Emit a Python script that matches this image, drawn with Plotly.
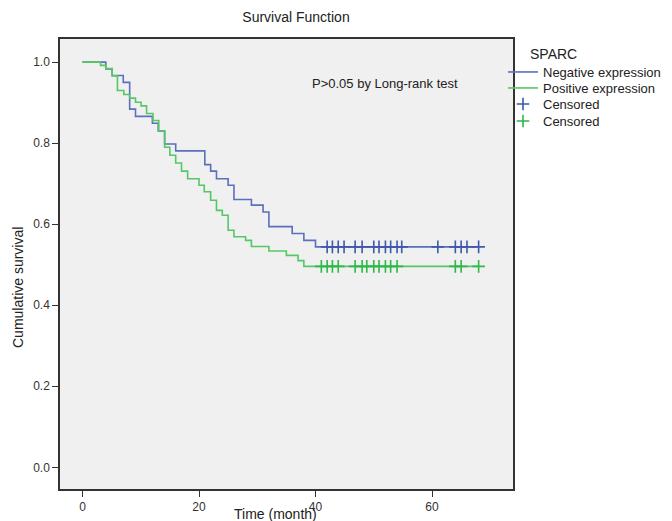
import numpy as np
import plotly.graph_objects as go

# ---- data ----
neg_times = [0, 4.0, 5.1, 7.0, 8.1, 9.1, 12.0, 13.0, 14.1, 16.0, 21.0, 22.0, 23.0,
             25.0, 26.0, 29.0, 31.0, 32.0, 36.0, 38.0, 40.0]
neg_surv = [1.0, 0.983, 0.967, 0.950, 0.884, 0.866, 0.849, 0.830, 0.798, 0.781, 0.747,
            0.731, 0.712, 0.696, 0.661, 0.647, 0.630, 0.594, 0.577, 0.560, 0.544]
neg_censor = [42.0, 42.9, 43.9, 44.9, 46.8, 48.0, 50.0, 50.9, 52.0, 52.9, 54.0, 54.8,
              61.0, 64.0, 65.0, 66.0, 68.0]

pos_times = [0, 3.1, 4.0, 5.1, 6.0, 7.1, 8.1, 9.1, 10.05, 11.0, 12.1, 13.1, 14.1, 15.0,
             16.0, 17.0, 18.05, 20.0, 20.9, 22.0, 23.0, 24.0, 25.0, 26.0, 28.0, 29.0,
             32.0, 35.0, 37.0, 38.0]
pos_surv = [1.0, 0.992, 0.984, 0.966, 0.930, 0.920, 0.911, 0.901, 0.892, 0.873, 0.856,
            0.830, 0.790, 0.770, 0.751, 0.731, 0.712, 0.696, 0.680, 0.659, 0.634, 0.622,
            0.585, 0.569, 0.560, 0.545, 0.534, 0.523, 0.510, 0.496]
pos_censor = [41.0, 42.0, 42.9, 43.9, 46.8, 48.0, 48.8, 50.0, 50.9, 52.0, 52.9, 54.0,
              64.0, 65.0, 68.0]

group_names = ["Negative expression", "Positive expression"]
x_ticks = [0, 20, 40, 60]
y_ticks = [0.0, 0.2, 0.4, 0.6, 0.8, 1.0]

# ---- styling ----
line_colors = ["#5a6fbd", "#55c865"]
cens_colors = ["#3e58ac", "#2eb848"]
FONT = "Liberation Sans, Arial, sans-serif"
TXT = "#222222"

OFF = 8  # page body margin offset
FW, FH = 672 - OFF, 521 - OFF
SL, ST, SR, SB = 60, 39, 513, 489  # plot area in screen pixels
PW, PH = SR - SL, SB - ST
L, T = SL - OFF, ST - OFF
R, B = FW - L - PW, FH - T - PH

legend_rows_px = [72, 88, 104, 121]  # screen y of each legend row


def step_value(times, surv, t):
    idx = np.searchsorted(np.array(times), t, side="right") - 1
    return np.array(surv)[idx]


legend_ids = ["legend", "legend2", "legend3", "legend4"]

fig = go.Figure()
groups = [(neg_times, neg_surv, neg_censor), (pos_times, pos_surv, pos_censor)]
for i, (tt, ss, cc) in enumerate(groups):
    end_t = max(cc)
    fig.add_trace(go.Scatter(
        x=list(tt) + [end_t], y=list(ss) + [ss[-1]],
        mode="lines", line=dict(color=line_colors[i], width=1.6, shape="hv"),
        name=group_names[i], legend=legend_ids[i],
    ))
for i, (tt, ss, cc) in enumerate(groups):
    fig.add_trace(go.Scatter(
        x=cc, y=step_value(tt, ss, cc),
        mode="markers",
        marker=dict(symbol="cross-thin", size=9,
                    line=dict(color=cens_colors[i], width=1.6)),
        name="Censored", legend=legend_ids[2 + i],
    ))

fig.add_annotation(x=52, y=0.947, xref="x", yref="y", text="P>0.05 by Long-rank test",
                   showarrow=False, font=dict(family=FONT, size=13, color=TXT))
fig.add_annotation(x=(275 - SL) / PW, y=-(514 - SB) / PH, xref="paper", yref="paper",
                   xanchor="center", yanchor="middle",
                   text="Time (month)", showarrow=False,
                   font=dict(family=FONT, size=14, color=TXT))
fig.add_annotation(x=-(SL - 18) / PW, y=(SB - 288) / PH, xref="paper", yref="paper",
                   xanchor="center", yanchor="middle",
                   text="Cumulative survival", showarrow=False, textangle=-90,
                   font=dict(family=FONT, size=14, color=TXT))
fig.add_annotation(x=(528 - SL) / PW, y=(SB - 54) / PH, xref="paper", yref="paper",
                   xanchor="left", yanchor="middle",
                   text="SPARC", showarrow=False,
                   font=dict(family=FONT, size=14, color=TXT))

legend_common = dict(xanchor="left", yanchor="middle", bgcolor="rgba(0,0,0,0)",
                     font=dict(family=FONT, size=13, color=TXT), itemwidth=30)
legends = {}
for k, lid in enumerate(legend_ids):
    legends[lid] = dict(x=(503 - SL) / PW, y=(SB - legend_rows_px[k]) / PH, **legend_common)

fig.update_layout(
    width=FW, height=FH,
    margin=dict(l=L, r=R, t=T, b=B, autoexpand=False),
    paper_bgcolor="white", plot_bgcolor="#f0f0f0",
    font=dict(family=FONT, size=12, color=TXT),
    title=dict(text="Survival Function", x=(296 - OFF) / FW, xanchor="center",
               y=1 - (17 - OFF) / FH, yanchor="middle",
               font=dict(family=FONT, size=14, color=TXT)),
    showlegend=True,
    xaxis=dict(range=[-3.86, 73.9], tickvals=x_ticks, showgrid=False, zeroline=False,
               showline=True, linecolor="#333333", linewidth=1.5, mirror=True,
               ticks="outside", ticklen=6, tickcolor="#333333", tickwidth=1.2,
               tickfont=dict(family=FONT, size=12, color="#333333")),
    yaxis=dict(range=[-0.0535, 1.057], tickvals=y_ticks, tickformat=".1f",
               showgrid=False, zeroline=False,
               showline=True, linecolor="#333333", linewidth=1.5, mirror=True,
               ticks="outside", ticklen=6, tickcolor="#333333", tickwidth=1.2,
               tickfont=dict(family=FONT, size=12, color="#333333")),
    **legends,
)

fig.write_html("out.html")
